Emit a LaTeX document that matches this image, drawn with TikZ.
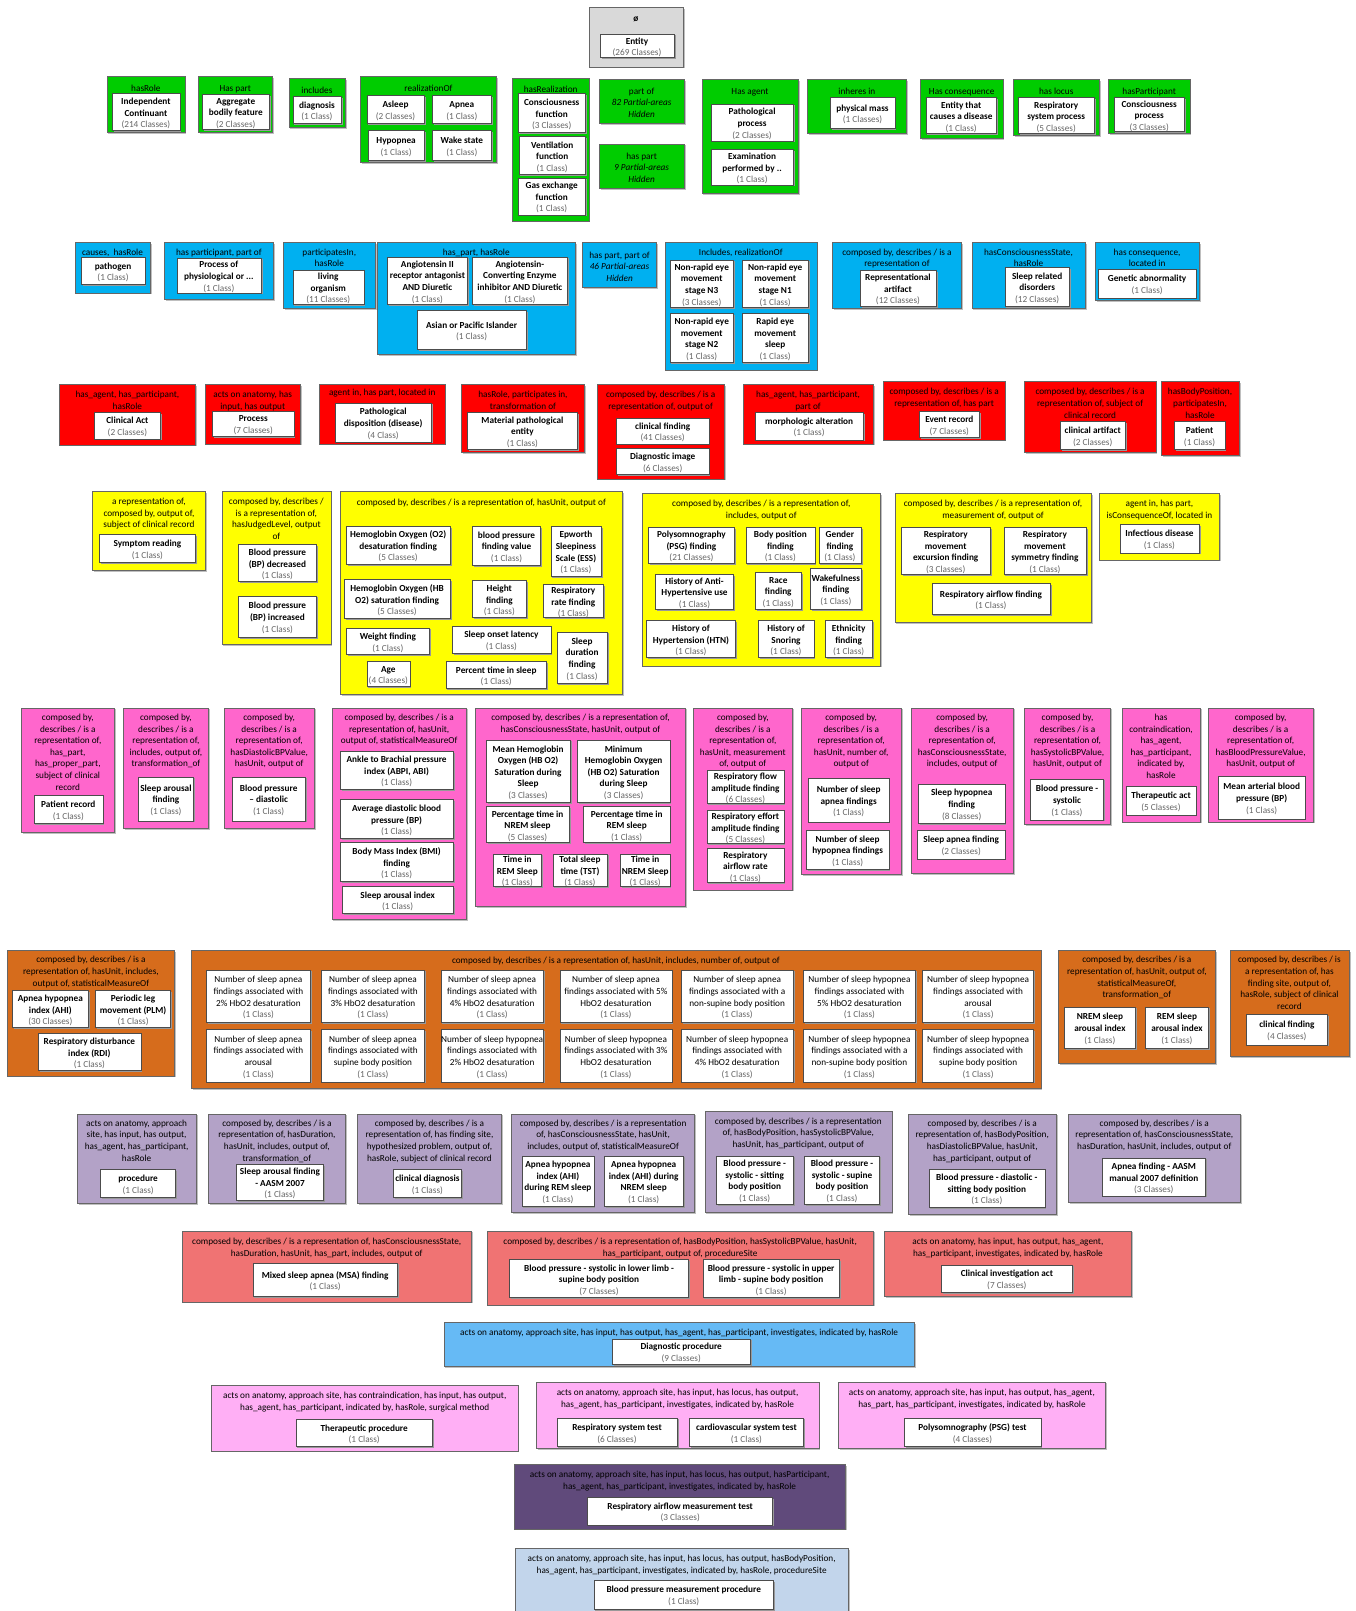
\documentclass[tikz,border=0pt]{standalone}
\usepackage{fontspec}
\setmainfont{Carlito}
\usetikzlibrary{positioning,fit,shadows}
\definecolor{entgray}{RGB}{217,217,217}
\definecolor{grn}{RGB}{0,204,0}
\definecolor{blu}{RGB}{0,176,240}
\definecolor{rd}{RGB}{255,0,0}
\definecolor{yel}{RGB}{255,255,0}
\definecolor{pnk}{RGB}{255,102,204}
\definecolor{org}{RGB}{214,108,28}
\definecolor{lav}{RGB}{179,162,199}
\definecolor{sal}{RGB}{240,115,115}
\definecolor{lblu}{RGB}{102,186,245}
\definecolor{lpnk}{RGB}{255,175,245}
\definecolor{dpur}{RGB}{96,74,123}
\definecolor{sblu}{RGB}{194,213,235}
\newcommand{\cnt}[1]{{\mdseries\color{black!60}#1}}
\tikzset{
    %Define standard font
    every node/.style={font=\fontsize{9}{11.3}\selectfont},
    %Define style for the partial-area groups
    grp/.style={
           rectangle,
           draw=black!60, thin,
           fill=#1,
           inner sep=0pt,
           drop shadow={shadow xshift=1.5pt,shadow yshift=-1.5pt,fill=black!25,opacity=1}},
    %Define style for the group labels
    ttl/.style={
           align=center,
           inner sep=1pt},
    %Define style for the text of a class box
    ctx/.style={
           align=center,
           inner sep=0pt,
           yshift=-1.5pt,
           font=\fontsize{9}{11.3}\selectfont\bfseries},
    %Define style for the class boxes
    cls/.style={
           rectangle,
           draw=black!70, thin,
           fill=white,
           inner sep=0pt,
           drop shadow={shadow xshift=1.5pt,shadow yshift=-1.5pt,fill=black!40,opacity=1},
           label={[ctx]center:{#1}}},
    % class boxes with plain names
    clsn/.style={
           rectangle,
           draw=black!70, thin,
           fill=white,
           inner sep=0pt,
           drop shadow={shadow xshift=1.5pt,shadow yshift=-1.5pt,fill=black!40,opacity=1},
           label={[ctx, font=\fontsize{9}{11.3}\selectfont]center:{#1}}},
    % hidden partial-areas
    hid/.style={label={[ttl, yshift=-1.5pt]center:{#1}}}
}
\begin{document}
\begin{tikzpicture}[x=1pt,y=-1pt]
\path[use as bounding box, fill=white] (0,0) rectangle (1319,1568);

% root
\node[grp=entgray, fit={(573,7) (665,65)}] (g0) {};
\node[ttl, below=8pt of g0.north] (t0) {\textbf{ø}};
\node[cls={Entity\\\cnt{(269 Classes)}}, fit={(584,33) (656,56)}] (c0) {};

% green row
\node[grp=grn, fit={(104,74) (180,129)}] (gA1) {};
\node[ttl, below=8pt of gA1.north] (tA1) {hasRole};
\node[cls={Independent\\Continuant\\\cnt{(214 Classes)}}, fit={(109,91) (175,127)}] (cA1) {};

\node[grp=grn, fit={(193,74) (265,129)}] (gA2) {};
\node[ttl, below=8pt of gA2.north] (tA2) {Has part};
\node[cls={Aggregate\\bodily feature\\\cnt{(2 Classes)}}, fit={(197,92) (262,126)}] (cA2) {};

\node[grp=grn, fit={(281,76) (336,124)}] (gA3) {};
\node[ttl, below=8pt of gA3.north] (tA3) {includes};
\node[cls={diagnosis\\\cnt{(1 Class)}}, fit={(285,94) (332,120)}] (cA3) {};

\node[grp=grn, fit={(351,74) (483,158)}] (gA4) {};
\node[ttl, below=8pt of gA4.north] (tA4) {realizationOf};
\node[cls={Asleep\\\cnt{(2 Classes)}}, fit={(357,93) (413,120)}] (cA4a) {};
\node[cls={Apnea\\\cnt{(1 Class)}}, fit={(421,93) (478,120)}] (cA4b) {};
\node[cls={Hypopnea\\\cnt{(1 Class)}}, fit={(358,127) (413,156)}] (cA4c) {};
\node[cls={Wake state\\\cnt{(1 Class)}}, fit={(421,127) (478,156)}] (cA4d) {};

\node[grp=grn, fit={(499,76) (573,215)}] (gA5) {};
\node[ttl, below=7pt of gA5.north] (tA5) {hasRealization};
\node[cls={Consciousness\\function\\\cnt{(3 Classes)}}, fit={(504,91) (570,129)}] (cA5a) {};
\node[cls={Ventilation\\function\\\cnt{(1 Class)}}, fit={(505,133) (570,170)}] (cA5b) {};
\node[cls={Gas exchange\\function\\\cnt{(1 Class)}}, fit={(504,173) (570,209)}] (cA5c) {};

\node[grp=grn, hid={part of\\\textit{82 Partial-areas}\\\textit{Hidden}}, fit={(583,77) (666,120)}] (gA6) {};
\node[grp=grn, hid={has part\\\textit{9 Partial-areas}\\\textit{Hidden}}, fit={(583,140) (666,183)}] (gA7) {};

\node[grp=grn, fit={(683,77) (777,188)}] (gA8) {};
\node[ttl, below=8pt of gA8.north] (tA8) {Has agent};
\node[cls={Pathological\\process\\\cnt{(2 Classes)}}, fit={(692,101) (772,137)}] (cA8a) {};
\node[cls={Examination\\performed by ..\\\cnt{(1 Class)}}, fit={(692,145) (772,180)}] (cA8b) {};

\node[grp=grn, fit={(786,77) (882,130)}] (gA9) {};
\node[ttl, below=8pt of gA9.north] (tA9) {inheres in};
\node[cls={physical mass\\\cnt{(1 Classes)}}, fit={(808,95) (871,125)}] (cA9) {};

\node[grp=grn, fit={(896,77) (976,135)}] (gA10) {};
\node[ttl, below=8pt of gA10.north] (tA10) {Has consequence};
\node[cls={Entity that\\causes a disease\\\cnt{(1 Class)}}, fit={(901,95) (970,130)}] (cA10) {};

\node[grp=grn, fit={(986,77) (1070,132)}] (gA11) {};
\node[ttl, below=8pt of gA11.north] (tA11) {has locus};
\node[cls={Respiratory\\system process\\\cnt{(5 Classes)}}, fit={(991,95) (1065,130)}] (cA11) {};

\node[grp=grn, fit={(1079,77) (1158,130)}] (gA12) {};
\node[ttl, below=8pt of gA12.north] (tA12) {hasParticipant};
\node[cls={Consciousness\\process\\\cnt{(3 Classes)}}, fit={(1084,95) (1153,128)}] (cA12) {};

% blue row
\node[grp=blu, fit={(73,236) (146,285)}] (gB1) {};
\node[ttl, below=5pt of gB1.north] (tB1) {causes,\ \ hasRole};
\node[cls={pathogen\\\cnt{(1 Class)}}, fit={(79,250) (141,277)}] (cB1) {};

\node[grp=blu, fit={(160,236) (266,291)}] (gB2) {};
\node[ttl, below=5pt of gB2.north] (tB2) {has participant, part of};
\node[cls={Process of\\physiological or ...\\\cnt{(1 Class)}}, fit={(172,251) (254,285)}] (cB2) {};

\node[grp=blu, fit={(276,236) (365,300)}] (gB3) {};
\node[ttl, below=5pt of gB3.north] (tB3) {participatesIn,\\hasRole};
\node[cls={living\\organism\\\cnt{(11 Classes)}}, fit={(285,263) (354,296)}] (cB3) {};

\node[grp=blu, fit={(367,236) (560,345)}] (gB4) {};
\node[ttl, below=5pt of gB4.north] (tB4) {has\_part, hasRole};
\node[cls={Angiotensin II\\receptor antagonist\\AND Diuretic\\\cnt{(1 Class)}}, fit={(377,250) (455,296)}] (cB4a) {};
\node[cls={Angiotensin-\\Converting Enzyme\\inhibitor AND Diuretic\\\cnt{(1 Class)}}, fit={(460,250) (552,296)}] (cB4b) {};
\node[cls={Asian or Pacific Islander\\\cnt{(1 Class)}}, fit={(406,302) (512,340)}] (cB4c) {};

\node[grp=blu, hid={has part, part of\\\textit{46 Partial-areas}\\\textit{Hidden}}, fit={(567,236) (639,280)}] (gB5) {};

\node[grp=blu, fit={(647,236) (795,360)}] (gB6) {};
\node[ttl, below=5pt of gB6.north] (tB6) {Includes, realizationOf};
\node[cls={Non-rapid eye\\movement\\stage N3\\\cnt{(3 Classes)}}, fit={(652,253) (714,299)}] (cB6a) {};
\node[cls={Non-rapid eye\\movement\\stage N1\\\cnt{(1 Class)}}, fit={(722,253) (787,299)}] (cB6b) {};
\node[cls={Non-rapid eye\\movement\\stage N2\\\cnt{(1 Class)}}, fit={(652,305) (714,353)}] (cB6c) {};
\node[cls={Rapid eye\\movement\\sleep\\\cnt{(1 Class)}}, fit={(722,305) (787,353)}] (cB6d) {};

\node[grp=blu, fit={(810,236) (936,300)}] (gB7) {};
\node[ttl, below=5pt of gB7.north] (tB7) {composed by, describes / is a\\representation of};
\node[cls={Representational\\artifact\\\cnt{(12 Classes)}}, fit={(837,263) (911,298)}] (cB7) {};

\node[grp=blu, fit={(946,236) (1056,300)}] (gB8) {};
\node[ttl, below=5pt of gB8.north] (tB8) {hasConsciousnessState,\\hasRole};
\node[cls={Sleep related\\disorders\\\cnt{(12 Classes)}}, fit={(978,260) (1041,298)}] (cB8) {};

\node[grp=blu, fit={(1066,236) (1167,292)}] (gB9) {};
\node[ttl, below=5pt of gB9.north] (tB9) {has consequence,\\located in};
\node[cls={Genetic abnormality\\\cnt{(1 Class)}}, fit={(1069,262) (1164,290)}] (cB9) {};

% red row
\node[grp=rd, fit={(58,374) (190,433)}] (gC1) {};
\node[ttl, below=6pt of gC1.north] (tC1) {has\_agent, has\_participant,\\hasRole};
\node[cls={Clinical Act\\\cnt{(2 Classes)}}, fit={(92,401) (156,427)}] (cC1) {};

\node[grp=rd, fit={(200,374) (292,432)}] (gC2) {};
\node[ttl, below=6pt of gC2.north] (tC2) {acts on anatomy, has\\input, has output};
\node[cls={Process\\\cnt{(7 Classes)}}, fit={(207,400) (286,425)}] (cC2) {};

\node[grp=rd, fit={(311,374) (433,432)}] (gC3) {};
\node[ttl, below=4pt of gC3.north] (tC3) {agent in, has part, located in};
\node[cls={Pathological\\disposition (disease)\\\cnt{(4 Class)}}, fit={(326,392) (420,430)}] (cC3) {};

\node[grp=rd, fit={(449,374) (569,440)}] (gC4) {};
\node[ttl, below=6pt of gC4.north] (tC4) {hasRole, participates in,\\transformation of};
\node[cls={Material pathological\\entity\\\cnt{(1 Class)}}, fit={(455,401) (562,437)}] (cC4) {};

\node[grp=rd, fit={(581,374) (705,466)}] (gC5) {};
\node[ttl, below=6pt of gC5.north] (tC5) {composed by, describes / is a\\representation of, output of};
\node[cls={clinical finding\\\cnt{(41 Classes)}}, fit={(600,407) (690,432)}] (cC5a) {};
\node[cls={Diagnostic image\\\cnt{(6 Classes)}}, fit={(600,436) (690,462)}] (cC5b) {};

\node[grp=rd, fit={(723,374) (850,432)}] (gC6) {};
\node[ttl, below=6pt of gC6.north] (tC6) {has\_agent, has\_participant,\\part of};
\node[cls={morphologic alteration\\\cnt{(1 Class)}}, fit={(735,401) (840,428)}] (cC6) {};

\node[grp=rd, fit={(860,371) (978,428)}] (gC7) {};
\node[ttl, below=6pt of gC7.north] (tC7) {composed by, describes / is a\\representation of, has part};
\node[cls={Event record\\\cnt{(7 Classes)}}, fit={(895,400) (953,426)}] (cC7) {};

\node[grp=rd, fit={(997,371) (1125,440)}] (gC8) {};
\node[ttl, below=6pt of gC8.north] (tC8) {composed by, describes / is a\\representation of, subject of\\clinical record};
\node[cls={clinical artifact\\\cnt{(2 Classes)}}, fit={(1032,410) (1095,437)}] (cC8) {};

\node[grp=rd, fit={(1130,371) (1206,443)}] (gC9) {};
\node[ttl, below=6pt of gC9.north] (tC9) {hasBodyPosition,\\participatesIn,\\hasRole};
\node[cls={Patient\\\cnt{(1 Class)}}, fit={(1143,410) (1192,437)}] (cC9) {};

% yellow row
\node[grp=yel, fit={(90,478) (200,555)}] (gD1) {};
\node[ttl, below=6pt of gD1.north] (tD1) {a representation of,\\composed by, output of,\\subject of clinical record};
\node[cls={Symptom reading\\\cnt{(1 Class)}}, fit={(97,520) (190,547)}] (cD1) {};

\node[grp=yel, fit={(216,478) (322,627)}] (gD2) {};
\node[ttl, below=6pt of gD2.north] (tD2) {composed by, describes /\\is a representation of,\\hasJudgedLevel, output\\of};
\node[cls={Blood pressure\\(BP) decreased\\\cnt{(1 Class)}}, fit={(232,530) (308,566)}] (cD2a) {};
\node[cls={Blood pressure\\(BP) increased\\\cnt{(1 Class)}}, fit={(232,580) (308,620)}] (cD2b) {};

\node[grp=yel, fit={(331,478) (606,676)}] (gD3) {};
\node[ttl, below=7pt of gD3.north] (tD3) {composed by, describes / is a representation of, hasUnit, output of};
\node[cls={Hemoglobin Oxygen (O2)\\desaturation finding\\\cnt{(5 Classes)}}, fit={(337,512) (438,549)}] (cD3a) {};
\node[cls={blood pressure\\finding value\\\cnt{(1 Class)}}, fit={(460,512) (526,550)}] (cD3b) {};
\node[cls={Epworth\\Sleepiness\\Scale (ESS)\\\cnt{(1 Class)}}, fit={(536,512) (585,561)}] (cD3c) {};
\node[cls={Hemoglobin Oxygen (HB\\O2) saturation finding\\\cnt{(5 Classes)}}, fit={(335,564) (438,602)}] (cD3d) {};
\node[cls={Height\\finding\\\cnt{(1 Class)}}, fit={(460,565) (512,601)}] (cD3e) {};
\node[cls={Respiratory\\rate finding\\\cnt{(1 Class)}}, fit={(529,569) (587,601)}] (cD3f) {};
\node[cls={Weight finding\\\cnt{(1 Class)}}, fit={(337,611) (418,637)}] (cD3g) {};
\node[cls={Sleep onset latency\\\cnt{(1 Class)}}, fit={(440,609) (536,636)}] (cD3h) {};
\node[cls={Sleep\\duration\\finding\\\cnt{(1 Class)}}, fit={(542,615) (591,665)}] (cD3i) {};
\node[cls={Age\\\cnt{(4 Classes)}}, fit={(357,644) (399,668)}] (cD3j) {};
\node[cls={Percent time in sleep\\\cnt{(1 Class)}}, fit={(434,644) (532,670)}] (cD3k) {};

\node[grp=yel, fit={(625,480) (857,648)}] (gD4) {};
\node[ttl, below=6pt of gD4.north] (tD4) {composed by, describes / is a representation of,\\includes, output of};
\node[cls={Polysomnography\\(PSG) finding\\\cnt{(21 Classes)}}, fit={(631,513) (715,548)}] (cD4a) {};
\node[cls={Body position\\finding\\\cnt{(1 Class)}}, fit={(726,513) (793,548)}] (cD4b) {};
\node[cls={Gender\\finding\\\cnt{(1 Class)}}, fit={(797,513) (838,548)}] (cD4c) {};
\node[cls={History of Anti-\\Hypertensive use\\\cnt{(1 Class)}}, fit={(638,559) (714,593)}] (cD4d) {};
\node[cls={Race\\finding\\\cnt{(1 Class)}}, fit={(735,557) (780,593)}] (cD4e) {};
\node[cls={Wakefulness\\finding\\\cnt{(1 Class)}}, fit={(789,553) (838,593)}] (cD4f) {};
\node[cls={History of\\Hypertension (HTN)\\\cnt{(1 Class)}}, fit={(629,604) (716,640)}] (cD4g) {};
\node[cls={History of\\Snoring\\\cnt{(1 Class)}}, fit={(738,604) (792,640)}] (cD4h) {};
\node[cls={Ethnicity\\finding\\\cnt{(1 Class)}}, fit={(803,604) (849,640)}] (cD4i) {};

\node[grp=yel, fit={(871,480) (1062,606)}] (gD5) {};
\node[ttl, below=6pt of gD5.north] (tD5) {composed by, describes / is a representation of,\\measurement of, output of};
\node[cls={Respiratory\\movement\\excursion finding\\\cnt{(3 Classes)}}, fit={(877,513) (964,559)}] (cD5a) {};
\node[cls={Respiratory\\movement\\symmetry finding\\\cnt{(1 Class)}}, fit={(977,513) (1057,559)}] (cD5b) {};
\node[cls={Respiratory airflow finding\\\cnt{(1 Class)}}, fit={(907,568) (1022,598)}] (cD5c) {};

\node[grp=yel, fit={(1070,480) (1187,545)}] (gD6) {};
\node[ttl, below=6pt of gD6.north] (tD6) {agent in, has part,\\isConsequenceOf, located in};
\node[cls={Infectious disease\\\cnt{(1 Class)}}, fit={(1090,510) (1167,538)}] (cD6) {};

% pink row
\node[grp=pnk, fit={(21,689) (111,810)}] (gE1) {};
\node[ttl, below=5pt of gE1.north] (tE1) {composed by,\\describes / is a\\representation of,\\has\_part,\\has\_proper\_part,\\subject of clinical\\record};
\node[cls={Patient record\\\cnt{(1 Class)}}, fit={(33,774) (100,801)}] (cE1) {};

\node[grp=pnk, fit={(120,689) (203,806)}] (gE2) {};
\node[ttl, below=5pt of gE2.north] (tE2) {composed by,\\describes / is a\\representation of,\\includes, output of,\\transformation\_of};
\node[cls={Sleep arousal\\finding\\\cnt{(1 Class)}}, fit={(135,756) (188,799)}] (cE2) {};

\node[grp=pnk, fit={(218,689) (306,806)}] (gE3) {};
\node[ttl, below=5pt of gE3.north] (tE3) {composed by,\\describes / is a\\representation of,\\hasDiastolicBPValue,\\hasUnit, output of};
\node[cls={Blood pressure\\-- diastolic\\\cnt{(1 Class)}}, fit={(226,756) (297,799)}] (cE3) {};

\node[grp=pnk, fit={(323,689) (454,895)}] (gE4) {};
\node[ttl, below=5pt of gE4.north] (tE4) {composed by, describes / is a\\representation of, hasUnit,\\output of, statisticalMeasureOf};
\node[cls={Ankle to Brachial pressure\\index (ABPI, ABI)\\\cnt{(1 Class)}}, fit={(331,731) (441,768)}] (cE4a) {};
\node[cls={Average diastolic blood\\pressure (BP)\\\cnt{(1 Class)}}, fit={(331,778) (441,816)}] (cE4b) {};
\node[cls={Body Mass Index (BMI)\\finding\\\cnt{(1 Class)}}, fit={(331,820) (441,858)}] (cE4c) {};
\node[cls={Sleep arousal index\\\cnt{(1 Class)}}, fit={(333,863) (441,889)}] (cE4d) {};

\node[grp=pnk, fit={(463,689) (667,882)}] (gE5) {};
\node[ttl, below=5pt of gE5.north] (tE5) {composed by, describes / is a representation of,\\hasConsciousnessState, hasUnit, output of};
\node[cls={Mean Hemoglobin\\Oxygen (HB O2)\\Saturation during\\Sleep\\\cnt{(3 Classes)}}, fit={(473,720) (555,781)}] (cE5a) {};
\node[cls={Minimum\\Hemoglobin Oxygen\\(HB O2) Saturation\\during Sleep\\\cnt{(3 Classes)}}, fit={(562,720) (652,781)}] (cE5b) {};
\node[cls={Percentage time in\\NREM sleep\\\cnt{(5 Classes)}}, fit={(473,785) (554,820)}] (cE5c) {};
\node[cls={Percentage time in\\REM sleep\\\cnt{(1 Class)}}, fit={(568,785) (652,820)}] (cE5d) {};
\node[cls={Time in\\REM Sleep\\\cnt{(1 Class)}}, fit={(480,831) (527,863)}] (cE5e) {};
\node[cls={Total sleep\\time (TST)\\\cnt{(1 Class)}}, fit={(538,831) (591,863)}] (cE5f) {};
\node[cls={Time in\\NREM Sleep\\\cnt{(1 Class)}}, fit={(604,831) (652,863)}] (cE5g) {};

\node[grp=pnk, fit={(675,689) (771,866)}] (gE6) {};
\node[ttl, below=5pt of gE6.north] (tE6) {composed by,\\describes / is a\\representation of,\\hasUnit, measurement\\of, output of};
\node[cls={Respiratory flow\\amplitude finding\\\cnt{(6 Classes)}}, fit={(688,750) (763,782)}] (cE6a) {};
\node[cls={Respiratory effort\\amplitude finding\\\cnt{(5 Classes)}}, fit={(688,789) (763,821)}] (cE6b) {};
\node[cls={Respiratory\\airflow rate\\\cnt{(1 Class)}}, fit={(688,826) (763,859)}] (cE6c) {};

\node[grp=pnk, fit={(780,689) (877,851)}] (gE7) {};
\node[ttl, below=5pt of gE7.north] (tE7) {composed by,\\describes / is a\\representation of,\\hasUnit, number of,\\output of};
\node[cls={Number of sleep\\apnea findings\\\cnt{(1 Class)}}, fit={(787,757) (865,800)}] (cE7a) {};
\node[cls={Number of sleep\\hypopnea findings\\\cnt{(1 Class)}}, fit={(785,808) (865,846)}] (cE7b) {};

\node[grp=pnk, fit={(887,689) (986,850)}] (gE8) {};
\node[ttl, below=5pt of gE8.north] (tE8) {composed by,\\describes / is a\\representation of,\\hasConsciousnessState,\\includes, output of};
\node[cls={Sleep hypopnea\\finding\\\cnt{(8 Classes)}}, fit={(894,763) (978,801)}] (cE8a) {};
\node[cls={Sleep apnea finding\\\cnt{(2 Classes)}}, fit={(893,808) (978,836)}] (cE8b) {};

\node[grp=pnk, fit={(997,689) (1081,802)}] (gE9) {};
\node[ttl, below=5pt of gE9.north] (tE9) {composed by,\\describes / is a\\representation of,\\hasSystolicBPValue,\\hasUnit, output of};
\node[cls={Blood pressure -\\systolic\\\cnt{(1 Class)}}, fit={(1003,758) (1074,798)}] (cE9) {};

\node[grp=pnk, fit={(1092,689) (1168,800)}] (gE10) {};
\node[ttl, below=5pt of gE10.north] (tE10) {has\\contraindication,\\has\_agent,\\has\_participant,\\indicated by,\\hasRole};
\node[cls={Therapeutic act\\\cnt{(5 Classes)}}, fit={(1096,765) (1164,793)}] (cE10) {};

\node[grp=pnk, fit={(1176,689) (1278,800)}] (gE11) {};
\node[ttl, below=5pt of gE11.north] (tE11) {composed by,\\describes / is a\\representation of,\\hasBloodPressureValue,\\hasUnit, output of};
\node[cls={Mean arterial blood\\pressure (BP)\\\cnt{(1 Class)}}, fit={(1186,755) (1270,797)}] (cE11) {};

% orange row
\node[grp=org, fit={(7,925) (170,1047)}] (gF1) {};
\node[ttl, below=5pt of gF1.north] (tF1) {composed by, describes / is a\\representation of, hasUnit, includes,\\output of, statisticalMeasureOf};
\node[cls={Apnea hypopnea\\index (AHI)\\\cnt{(30 Classes)}}, fit={(12,964) (86,1000)}] (cF1a) {};
\node[cls={Periodic leg\\movement (PLM)\\\cnt{(1 Class)}}, fit={(93,964) (166,1000)}] (cF1b) {};
\node[cls={Respiratory disturbance\\index (RDI)\\\cnt{(1 Class)}}, fit={(37,1006) (137,1042)}] (cF1c) {};

\node[grp=org, fit={(186,925) (1013,1059)}] (gF2) {};
\node[ttl, below=6pt of gF2.north] (tF2) {composed by, describes / is a representation of, hasUnit, includes, number of, output of};
\node[clsn={Number of sleep apnea\\findings associated with\\2\% HbO2 desaturation\\\cnt{(1 Class)}}, fit={(201,944) (302,995)}] (cF2a) {};
\node[clsn={Number of sleep apnea\\findings associated with\\3\% HbO2 desaturation\\\cnt{(1 Class)}}, fit={(313,944) (413,995)}] (cF2b) {};
\node[clsn={Number of sleep apnea\\findings associated with\\4\% HbO2 desaturation\\\cnt{(1 Class)}}, fit={(429,944) (529,995)}] (cF2c) {};
\node[clsn={Number of sleep apnea\\findings associated with 5\%\\HbO2 desaturation\\\cnt{(1 Class)}}, fit={(545,944) (654,995)}] (cF2d) {};
\node[clsn={Number of sleep apnea\\findings associated with a\\non-supine body position\\\cnt{(1 Class)}}, fit={(663,944) (772,995)}] (cF2e) {};
\node[clsn={Number of sleep hypopnea\\findings associated with\\5\% HbO2 desaturation\\\cnt{(1 Class)}}, fit={(782,944) (891,995)}] (cF2f) {};
\node[clsn={Number of sleep hypopnea\\findings associated with\\arousal\\\cnt{(1 Class)}}, fit={(898,944) (1006,995)}] (cF2g) {};
\node[clsn={Number of sleep apnea\\findings associated with\\arousal\\\cnt{(1 Class)}}, fit={(201,1002) (302,1053)}] (cF2h) {};
\node[clsn={Number of sleep apnea\\findings associated with\\supine body position\\\cnt{(1 Class)}}, fit={(313,1002) (413,1053)}] (cF2i) {};
\node[clsn={Number of sleep hypopnea\\findings associated with\\2\% HbO2 desaturation\\\cnt{(1 Class)}}, fit={(429,1002) (529,1053)}] (cF2j) {};
\node[clsn={Number of sleep hypopnea\\findings associated with 3\%\\HbO2 desaturation\\\cnt{(1 Class)}}, fit={(545,1002) (654,1053)}] (cF2k) {};
\node[clsn={Number of sleep hypopnea\\findings associated with\\4\% HbO2 desaturation\\\cnt{(1 Class)}}, fit={(663,1002) (772,1053)}] (cF2l) {};
\node[clsn={Number of sleep hypopnea\\findings associated with a\\non-supine body position\\\cnt{(1 Class)}}, fit={(782,1002) (891,1053)}] (cF2m) {};
\node[clsn={Number of sleep hypopnea\\findings associated with\\supine body position\\\cnt{(1 Class)}}, fit={(898,1002) (1006,1053)}] (cF2n) {};

\node[grp=org, fit={(1030,925) (1183,1035)}] (gF3) {};
\node[ttl, below=5pt of gF3.north] (tF3) {composed by, describes / is a\\representation of, hasUnit, output of,\\statisticalMeasureOf,\\transformation\_of};
\node[cls={NREM sleep\\arousal index\\\cnt{(1 Class)}}, fit={(1036,980) (1105,1020)}] (cF3a) {};
\node[cls={REM sleep\\arousal index\\\cnt{(1 Class)}}, fit={(1115,980) (1176,1020)}] (cF3b) {};

\node[grp=org, fit={(1197,925) (1313,1028)}] (gF4) {};
\node[ttl, below=5pt of gF4.north] (tF4) {composed by, describes / is\\a representation of, has\\finding site, output of,\\hasRole, subject of clinical\\record};
\node[cls={clinical finding\\\cnt{(4 Classes)}}, fit={(1213,987) (1292,1017)}] (cF4) {};

% lavender row
\node[grp=lav, fit={(75,1084) (191,1171)}] (gG1) {};
\node[ttl, below=5pt of gG1.north] (tG1) {acts on anatomy, approach\\site, has input, has output,\\has\_agent, has\_participant,\\hasRole};
\node[cls={procedure\\\cnt{(1 Class)}}, fit={(98,1138) (171,1165)}] (cG1) {};

\node[grp=lav, fit={(203,1084) (336,1171)}] (gG2) {};
\node[ttl, below=5pt of gG2.north] (tG2) {composed by, describes / is a\\representation of, hasDuration,\\hasUnit, includes, output of,\\transformation\_of};
\node[cls={Sleep arousal finding\\- AASM 2007\\\cnt{(1 Class)}}, fit={(230,1133) (315,1168)}] (cG2) {};

\node[grp=lav, fit={(348,1084) (488,1171)}] (gG3) {};
\node[ttl, below=5pt of gG3.north] (tG3) {composed by, describes / is a\\representation of, has finding site,\\hypothesized problem, output of,\\hasRole, subject of clinical record};
\node[cls={clinical diagnosis\\\cnt{(1 Class)}}, fit={(383,1138) (449,1165)}] (cG3) {};

\node[grp=lav, fit={(498,1084) (676,1180)}] (gG4) {};
\node[ttl, below=5pt of gG4.north] (tG4) {composed by, describes / is a representation\\of, hasConsciousnessState, hasUnit,\\includes, output of, statisticalMeasureOf};
\node[cls={Apnea hypopnea\\index (AHI)\\during REM sleep\\\cnt{(1 Class)}}, fit={(508,1125) (578,1174)}] (cG4a) {};
\node[cls={Apnea hypopnea\\index (AHI) during\\NREM sleep\\\cnt{(1 Class)}}, fit={(588,1125) (665,1174)}] (cG4b) {};

\node[grp=lav, fit={(686,1082) (868,1180)}] (gG5) {};
\node[ttl, below=5pt of gG5.north] (tG5) {composed by, describes / is a representation\\of, hasBodyPosition, hasSystolicBPValue,\\hasUnit, has\_participant, output of};
\node[cls={Blood pressure -\\systolic - sitting\\body position\\\cnt{(1 Class)}}, fit={(697,1125) (772,1172)}] (cG5a) {};
\node[cls={Blood pressure -\\systolic - supine\\body position\\\cnt{(1 Class)}}, fit={(783,1125) (856,1172)}] (cG5b) {};

\node[grp=lav, fit={(884,1084) (1028,1182)}] (gG6) {};
\node[ttl, below=5pt of gG6.north] (tG6) {composed by, describes / is a\\representation of, hasBodyPosition,\\hasDiastolicBPValue, hasUnit,\\has\_participant, output of};
\node[cls={Blood pressure - diastolic -\\sitting body position\\\cnt{(1 Class)}}, fit={(904,1138) (1017,1175)}] (cG6) {};

\node[grp=lav, fit={(1040,1084) (1207,1170)}] (gG7) {};
\node[ttl, below=5pt of gG7.north] (tG7) {composed by, describes / is a\\representation of, hasConsciousnessState,\\hasDuration, hasUnit, includes, output of};
\node[cls={Apnea finding - AASM\\manual 2007 definition\\\cnt{(3 Classes)}}, fit={(1073,1127) (1173,1164)}] (cG7) {};

% salmon row
\node[grp=sal, fit={(177,1198) (459,1267)}] (gH1) {};
\node[ttl, below=6pt of gH1.north] (tH1) {composed by, describes / is a representation of, hasConsciousnessState,\\hasDuration, hasUnit, has\_part, includes, output of};
\node[cls={Mixed sleep apnea (MSA) finding\\\cnt{(1 Class)}}, fit={(246,1229) (387,1262)}] (cH1) {};

\node[grp=sal, fit={(474,1198) (850,1270)}] (gH2) {};
\node[ttl, below=6pt of gH2.north] (tH2) {composed by, describes / is a representation of, hasBodyPosition, hasSystolicBPValue, hasUnit,\\has\_participant, output of, procedureSite};
\node[cls={Blood pressure - systolic in lower limb -\\supine body position\\\cnt{(7 Classes)}}, fit={(496,1226) (670,1263)}] (cH2a) {};
\node[cls={Blood pressure - systolic in upper\\limb - supine body position\\\cnt{(1 Class)}}, fit={(684,1226) (817,1263)}] (cH2b) {};

\node[grp=sal, fit={(861,1198) (1101,1262)}] (gH3) {};
\node[ttl, below=6pt of gH3.north] (tH3) {acts on anatomy, has input, has output, has\_agent,\\has\_participant, investigates, indicated by, hasRole};
\node[cls={Clinical investigation act\\\cnt{(7 Classes)}}, fit={(916,1231) (1044,1258)}] (cH3) {};

% light blue row
\node[grp=lblu, fit={(432,1287) (890,1330)}] (gI1) {};
\node[ttl, below=6pt of gI1.north] (tI1) {acts on anatomy, approach site, has input, has output, has\_agent, has\_participant, investigates, indicated by, hasRole};
\node[cls={Diagnostic procedure\\\cnt{(9 Classes)}}, fit={(596,1303) (730,1328)}] (cI1) {};

% light pink row
\node[grp=lpnk, fit={(206,1348) (504,1412)}] (gJ1) {};
\node[ttl, below=6pt of gJ1.north] (tJ1) {acts on anatomy, approach site, has contraindication, has input, has output,\\has\_agent, has\_participant, indicated by, hasRole, surgical method};
\node[cls={Therapeutic procedure\\\cnt{(1 Class)}}, fit={(288,1381) (421,1408)}] (cJ1) {};

\node[grp=lpnk, fit={(522,1345) (797,1410)}] (gJ2) {};
\node[ttl, below=6pt of gJ2.north] (tJ2) {acts on anatomy, approach site, has input, has locus, has output,\\has\_agent, has\_participant, investigates, indicated by, hasRole};
\node[cls={Respiratory system test\\\cnt{(6 Classes)}}, fit={(542,1380) (659,1408)}] (cJ2a) {};
\node[cls={cardiovascular system test\\\cnt{(1 Class)}}, fit={(671,1380) (782,1408)}] (cJ2b) {};

\node[grp=lpnk, fit={(816,1345) (1076,1410)}] (gJ3) {};
\node[ttl, below=6pt of gJ3.north] (tJ3) {acts on anatomy, approach site, has input, has output, has\_agent,\\has\_part, has\_participant, investigates, indicated by, hasRole};
\node[cls={Polysomnography (PSG) test\\\cnt{(4 Classes)}}, fit={(880,1380) (1013,1408)}] (cJ3) {};

% dark purple row
\node[grp=dpur, fit={(500,1425) (823,1488)}] (gK1) {};
\node[ttl, below=6pt of gK1.north] (tK1) {acts on anatomy, approach site, has input, has locus, has output, hasParticipant,\\has\_agent, has\_participant, investigates, indicated by, hasRole};
\node[cls={Respiratory airflow measurement test\\\cnt{(3 Classes)}}, fit={(572,1457) (752,1484)}] (cK1) {};

% steel blue row
\node[grp=sblu, fit={(501,1507) (826,1575)}] (gL1) {};
\node[ttl, below=6pt of gL1.north] (tL1) {acts on anatomy, approach site, has input, has locus, has output, hasBodyPosition,\\has\_agent, has\_participant, investigates, indicated by, hasRole, procedureSite};
\node[cls={Blood pressure measurement procedure\\\cnt{(1 Class)}}, fit={(578,1538) (753,1566)}] (cL1) {};
\end{tikzpicture}
\end{document}
